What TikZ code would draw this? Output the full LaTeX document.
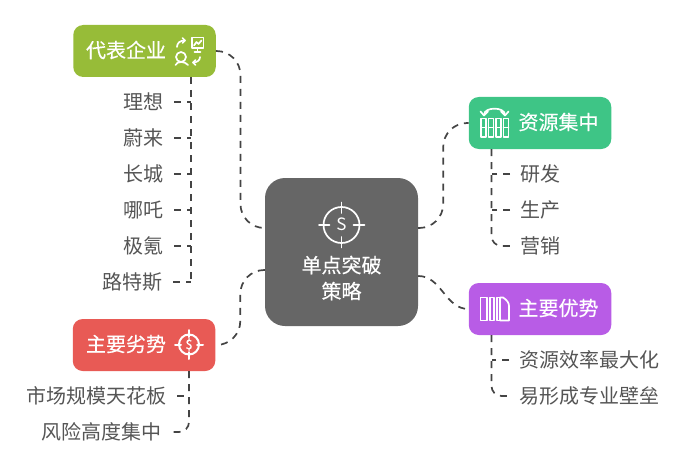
\documentclass[tikz,border=0pt]{standalone}
\usepackage{fontspec}
\setmainfont{Noto Sans CJK SC}
\newfontfamily\titlefont[FakeBold=0.35]{Noto Sans CJK SC}
\usetikzlibrary{arrows.meta}

\definecolor{limeFill}{HTML}{97BC38}
\definecolor{greenFill}{HTML}{3EC586}
\definecolor{purpleFill}{HTML}{B85CE6}
\definecolor{redFill}{HTML}{E85A55}
\definecolor{hubFill}{HTML}{666666}
\definecolor{linkGray}{HTML}{444444}
\definecolor{leafGray}{HTML}{555555}

\tikzset{
    branch/.style={rectangle, rounded corners=10pt, minimum width=142.5pt, minimum height=52pt,
        inner sep=0pt},
    hub/.style={rectangle, rounded corners=20pt, fill=hubFill, minimum width=153pt, minimum height=148pt,
        inner sep=0pt},
    title/.style={text=white, inner sep=0pt, font=\titlefont\fontsize{20}{26}\selectfont},
    leafleft/.style={anchor=east, inner xsep=10pt, inner ysep=0pt, text=leafGray, font=\fontsize{20}{24}\selectfont},
    leafright/.style={anchor=west, inner xsep=10pt, inner ysep=0pt, text=leafGray, font=\fontsize{20}{24}\selectfont},
    link/.style={draw=linkGray, line width=1.7pt, dash pattern=on 7pt off 6pt},
    glyph/.style={draw=white, line width=1.7pt, line cap=round, line join=round}
}

\begin{document}
\begin{tikzpicture}[x=1pt, y=-1pt]
    \useasboundingbox (0,0) rectangle (684,468);

    % Central block
    \node[hub] (hubNode) at (341.5,252) {};
    \node[title, align=center] (hubText) at (341.5,278) {单点突破\\策略};

    % Four branches
    \node[branch, fill=limeFill] (leadBox) at (144.5,51) {};
    \node[title] (leadText) at (126,50) {代表企业};
    \node[branch, fill=greenFill] (focusBox) at (540,123) {};
    \node[title] (focusText) at (558.5,122) {资源集中};
    \node[branch, fill=purpleFill] (plusBox) at (540,309) {};
    \node[title] (plusText) at (558.5,308) {主要优势};
    \node[branch, fill=redFill] (minusBox) at (144,345) {};
    \node[title] (minusText) at (126,344) {主要劣势};

    % Leaves of the first branch
    \node[leafleft] (leadA) at (174,102) {理想};
    \node[leafleft] (leadB) at (174,138) {蔚来};
    \node[leafleft] (leadC) at (174,174) {长城};
    \node[leafleft] (leadD) at (174,210) {哪吒};
    \node[leafleft] (leadE) at (174,246) {极氪};
    \node[leafleft] (leadF) at (173,282) {路特斯};

    % Leaves of the second branch
    \node[leafright] (focusA) at (510,174) {研发};
    \node[leafright] (focusB) at (510,210) {生产};
    \node[leafright] (focusC) at (510,246) {营销};

    % Leaves of the third branch
    \node[leafright] (plusA) at (509,360) {资源效率最大化};
    \node[leafright] (plusB) at (509,396) {易形成专业壁垒};

    % Leaves of the fourth branch
    \node[leafleft] (minusA) at (177,396) {市场规模天花板};
    \node[leafleft] (minusB) at (172,432) {风险高度集中};

    % Hub connectors
    \draw[link, rounded corners=24pt] (leadBox.east) -- ++(24.5,0) |- ([yshift=24pt]hubNode.west);
    \draw[link, rounded corners=24pt] ([yshift=24pt]hubNode.east) -- ++(25,0) |- (focusBox.west);
    \draw[link] ([yshift=-24pt]hubNode.east) to[out=0, in=180] (plusBox.west);
    \draw[link, rounded corners=24pt] ([yshift=-18pt]hubNode.west) -- ++(-24.5,0) |- (minusBox.east);

    % Trunk of the first branch
    \coordinate (leadRoot) at (191,77);
    \draw[link] (leadRoot) -- (leadRoot |- leadF.east);
    \draw[link] (leadA.east) -- (leadA.east -| leadRoot);
    \draw[link] (leadB.east) -- (leadB.east -| leadRoot);
    \draw[link] (leadC.east) -- (leadC.east -| leadRoot);
    \draw[link] (leadD.east) -- (leadD.east -| leadRoot);
    \draw[link] (leadE.east) -- (leadE.east -| leadRoot);
    \draw[link] (leadF.east) -- (leadF.east -| leadRoot);

    % Trunk of the second branch
    \coordinate (focusRoot) at (491.5,149);
    \draw[link, rounded corners=10pt] (focusRoot) |- (focusC.west);
    \draw[link] (focusA.west) -- (focusA.west -| focusRoot);
    \draw[link] (focusB.west) -- (focusB.west -| focusRoot);

    % Trunk of the third branch
    \coordinate (plusRoot) at (491.5,335);
    \draw[link, rounded corners=10pt] (plusRoot) |- (plusB.west);
    \draw[link] (plusA.west) -- (plusA.west -| plusRoot);

    % Trunk of the fourth branch
    \coordinate (minusRoot) at (189,371);
    \draw[link, rounded corners=10pt] (minusRoot) |- (minusB.east);
    \draw[link] (minusA.east) -- (minusA.east -| minusRoot);

    % Hub icon
    \draw[glyph] (341.5,225) circle (18);
    \draw[glyph] (341.5,202.5) -- (341.5,213) (341.5,237) -- (341.5,247.5);
    \draw[glyph] (319,225) -- (329.5,225) (353.5,225) -- (364.5,225);
    \node[text=white, inner sep=0pt, font=\fontsize{17}{17}\selectfont] (hubMark) at (341.5,224.5) {S};

    % Icon of the fourth branch
    \draw[glyph, line width=2pt] (189,344.5) circle (10);
    \draw[glyph, line width=2pt] (189,330) -- (189,337) (189,352) -- (189,359);
    \draw[glyph, line width=2pt] (175,344.5) -- (181,344.5) (197,344.5) -- (203,344.5);
    \node[text=white, inner sep=0pt, font=\titlefont\fontsize{13}{13}\selectfont] (minusMark) at (189,344.5) {\$};

    % Icon of the first branch
    \draw[glyph] (175.5,65) .. controls (177,61) and (185,61) .. (188,65);
    \draw[glyph] (181,57) circle (5);
    \draw[glyph] (192,37.5) rectangle (203.5,48);
    \draw[glyph] (197.5,48) -- (197.5,52) (194.5,52) -- (200.5,52);
    \draw[glyph] (194,45.5) -- (196.5,42) -- (198.5,44) -- (201.5,40.5);
    \draw[glyph] (177,47) .. controls (177,43) and (180,40.5) .. (185,40.5);
    \draw[glyph] (182.5,38) -- (185,40.5) -- (182.5,43);
    \draw[glyph] (200,57) .. controls (200,60.5) and (197,62.5) .. (193,62.5);
    \draw[glyph] (195.5,60) -- (193,62.5) -- (195.5,65);

    % Icon of the second branch
    \draw[glyph] (481,118.5) rectangle (486,137);
    \draw[glyph] (488.5,118.5) rectangle (493.5,137);
    \draw[glyph] (496,118.5) rectangle (501,137);
    \draw[glyph] (503.5,118.5) rectangle (508.5,137);
    \draw[glyph] (481,127.5) -- (486,127.5) (488.5,127.5) -- (493.5,127.5) (496,127.5) -- (501,127.5) (503.5,127.5) -- (508.5,127.5);
    \draw[glyph] (484,115) .. controls (484,106.5) and (505,106.5) .. (505,115);
    \draw[glyph] (480.5,111.5) -- (484,115.5) -- (488,111.5);
    \draw[glyph] (501,111.5) -- (505,115.5) -- (508.5,111.5);

    % Icon of the third branch
    \draw[glyph] (480.5,297.5) rectangle (487,320.5);
    \draw[glyph] (490,320.5) -- (490,297.5) -- (494,297.5) -- (494,320.5) -- cycle;
    \draw[glyph] (497,320.5) -- (497,297.5) -- (500,297.5) -- (500,320.5) -- cycle;
    \draw[glyph] (500,297.5) -- (503,297.5) .. controls (507,300) and (509,303) .. (509,306) -- (509,320.5) -- (500,320.5);
\end{tikzpicture}
\end{document}
